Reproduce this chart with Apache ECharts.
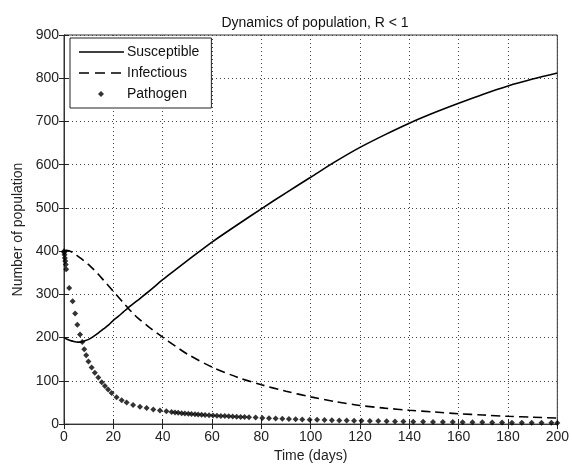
<!DOCTYPE html>
<html>
<head>
<meta charset="utf-8">
<script src="https://cdn.jsdelivr.net/npm/echarts@6/dist/echarts.min.js"></script>
<style>html,body{margin:0;padding:0;background:#fff}#c{width:572px;height:468px}</style>
</head>
<body>
<div id="c"></div>
<script>
var titleText = 'Dynamics of population, R < 1';
var xName = 'Time (days)';
var yName = 'Number of population';
var seriesNames = ['Susceptible', 'Infectious', 'Pathogen'];

var lineT = [0,1,2,3,4,5,6,7,8,10,12,14,16,18,20,22,24,26,28,30,35,40,45,50,60,70,80,90,100,110,120,130,140,150,160,170,180,190,200];
var susceptible = [200,197,194.5,192.5,191,190,189.5,190,191.5,196,203,211,220,229,240,249,259,269,278,287,310,334,356,378,421,460,498,535,571,607,640,669,696,720,742,763,782,798,812];
var infectious = [400,402,401,398.5,395,391,387,382.5,378,369,358,346,333,320,307,294,281,268,256,245,222,201,181,162,132,109,91,76,63,52,43,37,32,28,24,21,18,16,14];

var pathT = [0,0.1,0.2,0.35,0.5,0.7,0.9,2.1,3.5,4.5,5.4,6.5,7.4,8.2,9,9.9,11.2,12.5,13.9,15.3,16.6,17.9,19.3,21.3,23.4,25.4,28,30.8,33.5,36.2,38.9,41.5,43.6,45,46.3,47.7,49,50.4,51.7,53.1,54.4,55.8,57.2,58.8,60.4,62,63.6,65.2,66.8,68.4,70,71.6,73.2,75,77.7,80.4,83.1,85.8,88.5,91.2,93.9,96.6,99.6,102.6,105.6,108.6,111.6,114.6,117.6,120.6,124,127.4,130.8,134.2,137.6,141.6,145.6,149.6,153.6,157.6,161.6,165.6,169.6,173.6,177.6,181.6,185.6,189.6,193.6,197.6,200];
var pathogen = [400,397,392,384,377,369,358,315,284,256,230,207,190,173,159,145,131,119,108,97,88,80,72,62,55,50,44,40,37,34,31.5,29.5,28,27,26,25.3,24.6,24,23.4,22.8,22.2,21.7,21.2,20.6,20,19.5,19,18.5,18,17.5,17,16.6,16.2,15.7,15,14.3,13.6,13,12.4,11.8,11.3,10.8,10.3,9.8,9.4,9,8.6,8.2,7.9,7.6,7.2,6.9,6.6,6.3,6,5.7,5.4,5.1,4.9,4.6,4.4,4.2,4,3.8,3.6,3.4,3.3,3.1,3,2.9,2.8];

function pairs(ts, vs) { return ts.map(function (t, i) { return [t, vs[i]]; }); }

var FONT = 'Liberation Sans';
var chart = echarts.init(document.getElementById('c'), null, {renderer: 'canvas'});
var gridLine = {show: true, lineStyle: {color: '#444', type: [1, 3], width: 1}};
var tickIn = {show: true, inside: true, length: 5, lineStyle: {color: '#222'}};
var axLine = {show: true, lineStyle: {color: '#333', width: 1}};
var lbl = {color: '#222', fontFamily: FONT, fontSize: 14};

var BOX = 'M0,0M46,14';
var solidIcon = 'path://' + BOX + 'M1,6.2L46,6.2L46,7.8L1,7.8Z';
var dashedIcon = 'path://' + BOX + 'M1,6.2L11,6.2L11,7.8L1,7.8Z M17,6.2L27,6.2L27,7.8L17,7.8Z M33,6.2L43,6.2L43,7.8L33,7.8Z';
var dotIcon = 'path://' + BOX + 'M23,4L26,7L23,10L20,7Z';

chart.setOption({
  animation: false,
  backgroundColor: '#fff',
  title: {
    text: titleText, left: 310, top: 11, textAlign: 'center',
    textStyle: {fontFamily: FONT, fontSize: 14, fontWeight: 'normal', color: '#111'}
  },
  legend: {
    orient: 'vertical', left: 70, top: 38,
    padding: [7, 12, 7, 8], itemGap: 7, itemWidth: 46, itemHeight: 14,
    borderColor: '#222', borderWidth: 1, backgroundColor: '#fff',
    textStyle: {fontFamily: FONT, fontSize: 14, color: '#111', padding: [0, 0, 0, -2]},
    data: [
      {name: seriesNames[0], icon: solidIcon, itemStyle: {color: '#000'}},
      {name: seriesNames[1], icon: dashedIcon, itemStyle: {color: '#000'}},
      {name: seriesNames[2], icon: dotIcon, itemStyle: {color: '#000'}}
    ]
  },
  grid: {left: 64, right: 11, top: 35, bottom: 42, show: true, borderColor: '#333', borderWidth: 1},
  xAxis: [{
    type: 'value', min: 0, max: 200, interval: 20,
    name: xName, nameLocation: 'middle', nameGap: 24,
    nameTextStyle: {fontFamily: FONT, fontSize: 14, color: '#222'},
    axisLine: axLine, axisTick: tickIn, splitLine: gridLine,
    axisLabel: Object.assign({margin: 6}, lbl)
  }, {
    type: 'value', min: 0, max: 200, interval: 20, position: 'top',
    axisLine: axLine, axisTick: tickIn, splitLine: {show: false}, axisLabel: {show: false}
  }],
  yAxis: [{
    type: 'value', min: 0, max: 900, interval: 100,
    name: yName, nameLocation: 'middle', nameGap: 38,
    nameTextStyle: {fontFamily: FONT, fontSize: 14, color: '#222'},
    axisLine: axLine, axisTick: tickIn, splitLine: gridLine,
    axisLabel: Object.assign({margin: 5}, lbl)
  }, {
    type: 'value', min: 0, max: 900, interval: 100, position: 'right',
    axisLine: axLine, axisTick: tickIn, splitLine: {show: false}, axisLabel: {show: false}
  }],
  series: [{
    name: seriesNames[0], type: 'line', data: pairs(lineT, susceptible),
    symbol: 'none', showSymbol: false, smooth: 0.3, color: '#000',
    lineStyle: {color: '#000', width: 1.6}
  }, {
    name: seriesNames[1], type: 'line', data: pairs(lineT, infectious),
    symbol: 'none', showSymbol: false, smooth: 0.3, color: '#000',
    lineStyle: {color: '#000', width: 1.6, type: [9, 5]}
  }, {
    name: seriesNames[2], type: 'scatter', data: pairs(pathT, pathogen),
    symbol: 'diamond', symbolSize: 6, color: '#000',
    itemStyle: {color: '#000'}
  }]
});
</script>
</body>
</html>
